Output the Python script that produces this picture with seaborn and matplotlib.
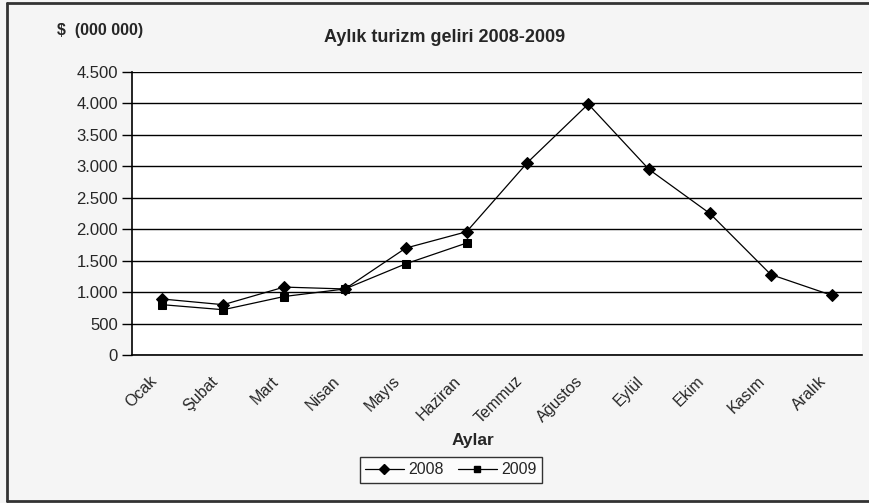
import numpy as np
import pandas as pd
import matplotlib
matplotlib.use("Agg")
import matplotlib.pyplot as plt
from matplotlib.lines import Line2D
import seaborn as sns

# Monthly tourism revenue, $ (000 000)
months = ["Ocak", "Şubat", "Mart", "Nisan", "Mayıs", "Haziran",
          "Temmuz", "Ağustos", "Eylül", "Ekim", "Kasım", "Aralık"]
rev_2008 = [890, 800, 1080, 1050, 1700, 1960, 3060, 3990, 2950, 2250, 1280, 950]
rev_2009 = [800, 720, 930, 1050, 1450, 1780]
y_ticks = [0, 500, 1000, 1500, 2000, 2500, 3000, 3500, 4000, 4500]
y_tick_labels = ["0", "500", "1.000", "1.500", "2.000", "2.500", "3.000",
                 "3.500", "4.000", "4.500"]

df = pd.concat([
    pd.DataFrame({"pos": np.arange(len(rev_2008)), "gelir": rev_2008, "yil": "2008"}),
    pd.DataFrame({"pos": np.arange(len(rev_2009)), "gelir": rev_2009, "yil": "2009"}),
], ignore_index=True)

sns.set_style("white")
plt.rcParams["font.family"] = ["Liberation Sans", "DejaVu Sans"]

W, H = 869, 503
fig = plt.figure(figsize=(W / 100, H / 100), dpi=100, facecolor="#f5f5f5")
ax = fig.add_axes([132 / W, 1 - 355 / H, (862 - 132) / W, (355 - 72) / H])
ax.set_facecolor("white")

sns.lineplot(data=df, x="pos", y="gelir", hue="yil", style="yil",
             palette={"2008": "black", "2009": "black"},
             markers={"2008": "D", "2009": "s"},
             dashes={"2008": "", "2009": ""},
             markersize=6, linewidth=0.9, markeredgecolor="black",
             legend=False, ax=ax)

ax.set_xlim(-0.5, 11.5)
ax.set_ylim(0, 4500)
ax.set_yticks(y_ticks)
ax.set_yticklabels(y_tick_labels, fontsize=12)
ax.yaxis.grid(True, color="black", linewidth=1)
ax.set_axisbelow(True)

# rotated month names sit a little left of each category centre
ax.set_xticks(np.arange(len(months)) - 0.13)
ax.set_xticklabels(months, rotation=45, ha="right", va="center",
                   rotation_mode="anchor", fontsize=11.5)
ax.set_xticks(np.arange(-0.5, 12, 1), minor=True)
ax.tick_params(axis="x", which="major", length=0, pad=17)
ax.tick_params(axis="x", which="minor", length=6, width=1, color="black",
               direction="out")
ax.tick_params(axis="y", length=7, width=1, color="black", direction="out",
               left=True, pad=3)
ax.set_xlabel("")
ax.set_ylabel("")

for side in ["top", "right"]:
    ax.spines[side].set_visible(False)
for side in ["left", "bottom"]:
    ax.spines[side].set_color("black")
    ax.spines[side].set_linewidth(1.2)

fig.text(445 / W, 1 - 38 / H, "Aylık turizm geliri 2008-2009", ha="center",
         va="center", fontsize=13, fontweight="bold")
fig.text(57 / W, 1 - 31 / H, "$  (000 000)", ha="left", va="center",
         fontsize=11.5, fontweight="bold")
fig.text(473 / W, 1 - 440 / H, "Aylar", ha="center", va="center",
         fontsize=12.5, fontweight="bold")

handles = [
    Line2D([], [], color="black", marker="D", markersize=5, linewidth=0.9),
    Line2D([], [], color="black", marker="s", markersize=5, linewidth=0.9),
]
leg = fig.legend(handles, ["2008", "2009"], loc="center",
                 bbox_to_anchor=(451 / W, 1 - 470 / H), ncol=2, fontsize=11.5,
                 frameon=True, fancybox=False, handlelength=2.4,
                 handletextpad=0.3, columnspacing=0.9, borderpad=0.35)
leg.get_frame().set_edgecolor("black")
leg.get_frame().set_linewidth(1)
leg.get_frame().set_facecolor("white")

# outer frame of the chart
frame_kw = dict(color="#333333", linewidth=2, transform=fig.transFigure)
fig.add_artist(Line2D([7 / W, 7 / W], [1 - 3 / H, 1 - 501 / H], **frame_kw))
fig.add_artist(Line2D([7 / W, 1], [1 - 3 / H, 1 - 3 / H], **frame_kw))
fig.add_artist(Line2D([7 / W, 1], [1 - 501 / H, 1 - 501 / H], **frame_kw))

fig.savefig("out.png", dpi=100, facecolor=fig.get_facecolor())
